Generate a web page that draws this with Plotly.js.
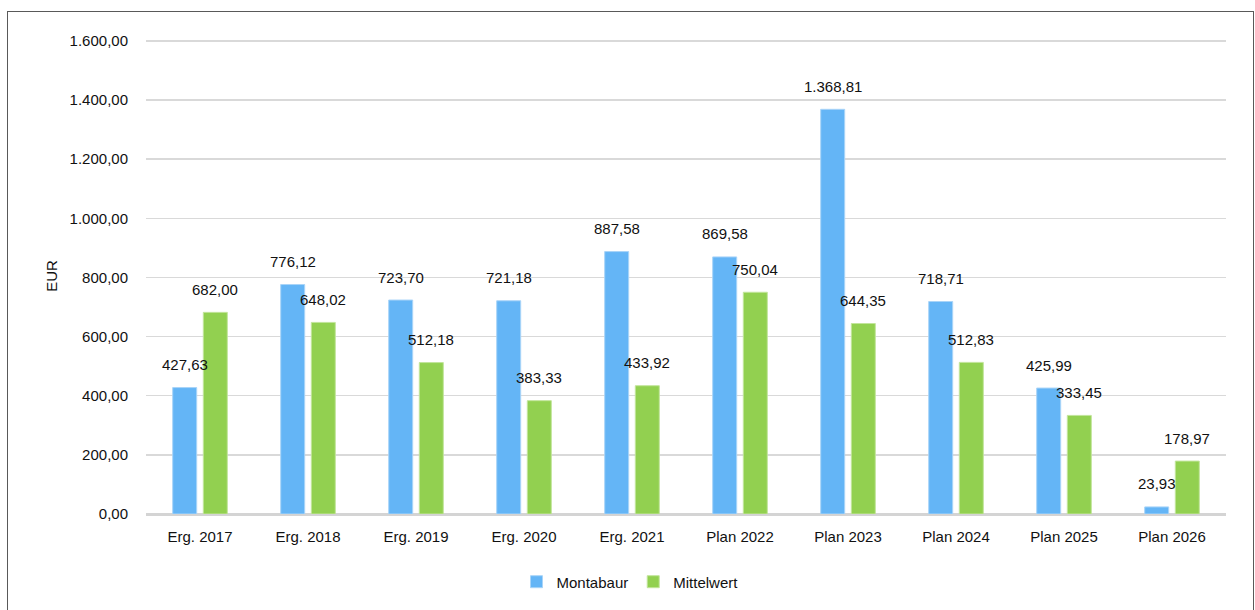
<!DOCTYPE html>
<html>
<head>
<meta charset="utf-8">
<script src="https://cdn.plot.ly/plotly-3.0.1.min.js"></script>
<style>
html,body{margin:0;padding:0;background:#fff;}
#wrap{position:relative;width:1255px;height:610px;overflow:hidden;}
#chart{position:absolute;left:0;top:0;width:1255px;height:610px;}
#frame{position:absolute;left:7px;top:11px;width:1245px;height:640px;border:1px solid #595959;pointer-events:none;}
</style>
</head>
<body>
<div id="wrap"><div id="chart"></div><div id="frame"></div></div>
<script>
const categories = ["Erg. 2017","Erg. 2018","Erg. 2019","Erg. 2020","Erg. 2021","Plan 2022","Plan 2023","Plan 2024","Plan 2025","Plan 2026"];
const montabaur = [427.63, 776.12, 723.70, 721.18, 887.58, 869.58, 1368.81, 718.71, 425.99, 23.93];
const mittelwert = [682.00, 648.02, 512.18, 383.33, 433.92, 750.04, 644.35, 512.83, 333.45, 178.97];
const seriesNames = ["Montabaur", "Mittelwert"];
const yTicks = [0, 200, 400, 600, 800, 1000, 1200, 1400, 1600];

function fmt(v){
  const parts = v.toFixed(2).split(".");
  const intPart = parts[0].replace(/\B(?=(\d{3})+(?!\d))/g, ".");
  return intPart + "," + parts[1];
}

const blue = "#64b5f6", green = "#92d050";
const font = {family: "Liberation Sans, Arial, sans-serif", size: 15, color: "#111"};

const traces = [
  {type:"bar", name:seriesNames[0], x:categories, y:montabaur, marker:{color:blue, line:{color:"#a9d4f8", width:1}}, hoverinfo:"none"},
  {type:"bar", name:seriesNames[1], x:categories, y:mittelwert, marker:{color:green, line:{color:"#c2e59b", width:1}}, hoverinfo:"none"}
];

const annotations = [];
categories.forEach((c,i)=>{
  annotations.push({x:c, y:montabaur[i], xref:"x", yref:"y", text:fmt(montabaur[i]), showarrow:false, xshift:-15, yshift:23, yanchor:"middle", font:font});
  annotations.push({x:c, y:mittelwert[i], xref:"x", yref:"y", text:fmt(mittelwert[i]), showarrow:false, xshift:15, yshift:23, yanchor:"middle", font:font});
});

const layout = {
  width:1255, height:610,
  margin:{l:146, r:29, t:38, b:96},
  paper_bgcolor:"#fff", plot_bgcolor:"#fff",
  font:font,
  separators:",.",
  barmode:"group", bargap:0.433, bargroupgap:0.216,
  xaxis:{type:"category", showgrid:false, showline:false, zeroline:false, ticks:"", ticklabelstandoff:12, tickfont:font},
  yaxis:{range:[0,1610], tickvals:yTicks, tickformat:",.2f", showgrid:true, gridcolor:"#d9d9d9", gridwidth:1.5,
         zeroline:true, zerolinecolor:"#d4d4d4", zerolinewidth:3, showline:false, ticks:"", ticklabelstandoff:17, tickfont:font,
         title:{text:"EUR", font:font, standoff:8}},
  legend:{orientation:"h", xref:"container", x:0.502, xanchor:"center", yref:"container", y:0.046, yanchor:"middle", font:{family:font.family, size:15, color:"#111"}, itemwidth:30, traceorder:"normal"},
  annotations:annotations,
  showlegend:true
};

Plotly.newPlot("chart", traces, layout, {displayModeBar:false, staticPlot:true});
</script>
</body>
</html>
